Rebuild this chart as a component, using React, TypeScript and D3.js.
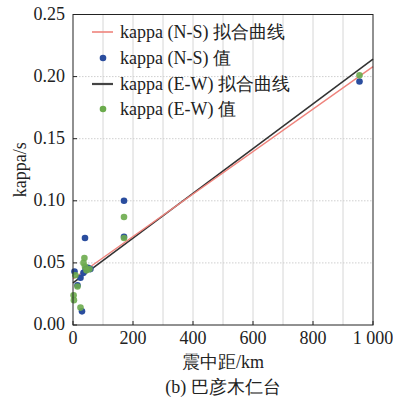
import React from "react";
import * as d3 from "d3";

const xTicks = [0, 200, 400, 600, 800, 1000];
const xTickLabels = ["0", "200", "400", "600", "800", "1 000"];
const xGrid = [100, 200, 300, 400, 500, 600, 700, 800, 900];
const yTicks = [0, 0.05, 0.1, 0.15, 0.2, 0.25];

const nsDist = [5, 15, 25, 30, 35, 40, 42, 50, 58, 170, 170, 955];
const nsKappa = [0.043, 0.032, 0.038, 0.011, 0.042, 0.070, 0.045, 0.046, 0.045, 0.100, 0.071, 0.196];
const ewDist = [2, 3, 8, 15, 25, 35, 38, 40, 45, 55, 170, 170, 955];
const ewKappa = [0.024, 0.020, 0.040, 0.031, 0.014, 0.050, 0.054, 0.047, 0.044, 0.045, 0.087, 0.070, 0.201];

const nsFit = { a: 0.037, b: 0.000171 };
const ewFit = { a: 0.034, b: 0.00018 };

const legendLabels = ["kappa (N-S) 拟合曲线", "kappa (N-S) 值", "kappa (E-W) 拟合曲线", "kappa (E-W) 值"];

const RED = "#ef837c";
const BLUE = "#2a4d9e";
const BLACK = "#333333";
const GREEN = "#6bab4c";
const FONT = "Liberation Serif, serif";

export default function App() {
  const W = 393, H = 401;
  const L = 73, R = 373, T = 14.5, B = 325;
  const x = d3.scaleLinear().domain([0, 1000]).range([L, R]);
  const y = d3.scaleLinear().domain([0, 0.25]).range([B, T]);
  const fitLine = (f: { a: number; b: number }) =>
    d3.line<number>().x((d) => x(d)).y((d) => y(f.a + f.b * d))([0, 1000]) || "";
  const ns = nsDist.map((d, i) => [d, nsKappa[i]]);
  const ew = ewDist.map((d, i) => [d, ewKappa[i]]);
  const legY = [32, 58, 84, 109];
  const fs = 18;
  return (
    <svg width={W} height={H} style={{ position: "absolute", left: 0, top: 0, fontFamily: FONT }}>
      <rect x={0} y={0} width={W} height={H} fill="#fff" />
      {xGrid.map((g) => (
        <line key={"xg" + g} x1={x(g)} x2={x(g)} y1={T} y2={B} stroke="#d6d6d6" strokeWidth={1} />
      ))}
      {yTicks.slice(1, -1).map((g) => (
        <line key={"yg" + g} x1={L} x2={R} y1={y(g)} y2={y(g)} stroke="#cfcfcf" strokeWidth={1} strokeDasharray="1.5,1.5" />
      ))}
      <path d={fitLine(ewFit)} stroke={BLACK} strokeWidth={1.6} fill="none" />
      <path d={fitLine(nsFit)} stroke={RED} strokeWidth={1.4} fill="none" />
      {ns.map((p, i) => (
        <circle key={"ns" + i} cx={x(p[0])} cy={y(p[1])} r={3.3} fill={BLUE} />
      ))}
      {ew.map((p, i) => (
        <circle key={"ew" + i} cx={x(p[0])} cy={y(p[1])} r={3.3} fill={GREEN} opacity={0.9} />
      ))}
      <rect x={L} y={T} width={R - L} height={B - T} fill="none" stroke="#222" strokeWidth={1} />
      {xTicks.map((t, i) => (
        <g key={"xt" + t}>
          <line x1={x(t)} x2={x(t)} y1={B} y2={B - 4} stroke="#222" />
          <text x={x(t)} y={B + 19} textAnchor="middle" fontSize={fs} fill="#222">
            {xTickLabels[i]}
          </text>
        </g>
      ))}
      {yTicks.map((t) => (
        <g key={"yt" + t}>
          <line x1={L} x2={L + 4} y1={y(t)} y2={y(t)} stroke="#222" />
          <text x={L - 8} y={y(t) + 5} textAnchor="end" fontSize={fs} fill="#222">
            {t.toFixed(2)}
          </text>
        </g>
      ))}
      <text transform={`translate(26,${(T + B) / 2}) rotate(-90)`} textAnchor="middle" fontSize={fs} fill="#222">
        kappa/s
      </text>
      <text x={(L + R) / 2} y={368} textAnchor="middle" fontSize={fs} fill="#222">震中距/km</text>
      <text x={(L + R) / 2} y={393} textAnchor="middle" fontSize={fs} fill="#222">(b) 巴彦木仁台</text>
      {legendLabels.map((lab, i) => (
        <g key={"lg" + i}>
          {i % 2 === 0 ? (
            <line x1={92} x2={113} y1={legY[i]} y2={legY[i]} stroke={i === 0 ? RED : "#444"} strokeWidth={i === 0 ? 1.6 : 2.2} />
          ) : (
            <circle cx={103} cy={legY[i]} r={3.3} fill={i === 1 ? BLUE : GREEN} />
          )}
          <text x={120} y={legY[i] + 6} fontSize={fs} fill="#222">{lab}</text>
        </g>
      ))}
    </svg>
  );
}
